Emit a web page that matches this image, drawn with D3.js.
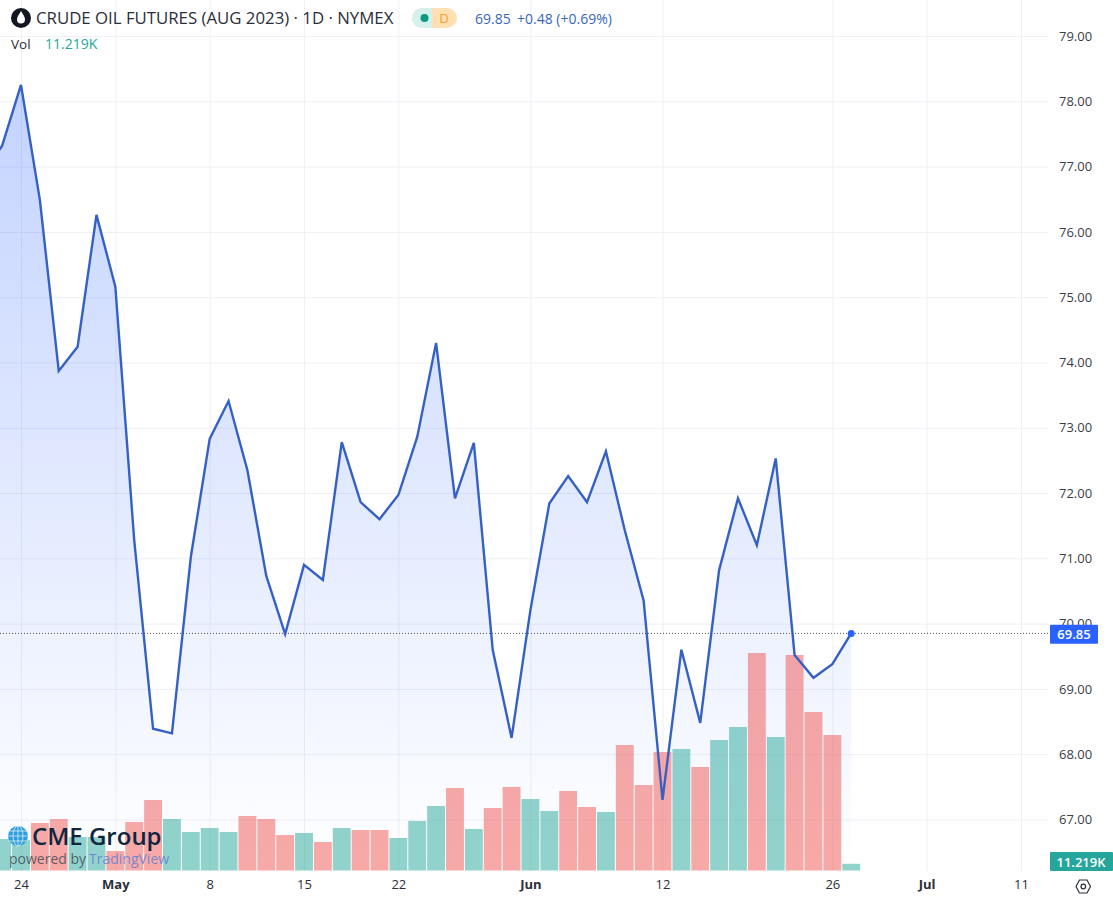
<!DOCTYPE html>
<html lang="en">

<head>
    <meta charset="UTF-8">
    <title>Crude Oil Futures (Aug 2023)</title>
    <script src="https://d3js.org/d3.v7.min.js"></script>
    <style>
        html, body { margin: 0; padding: 0; background: #fff; overflow: hidden; }
        text { font-family: "Open Sans", sans-serif; }
    </style>
</head>

<body>
    <svg id="chart" width="1113" height="902"></svg>

    <script>
        // trading days shown on the time axis (no bars for the last nine)
        const days = ["Apr 20", "Apr 21", "Apr 24", "Apr 25", "Apr 26", "Apr 27", "Apr 28",
            "May 1", "May 2", "May 3", "May 4", "May 5", "May 8", "May 9", "May 10", "May 11", "May 12",
            "May 15", "May 16", "May 17", "May 18", "May 19", "May 22", "May 23", "May 24", "May 25", "May 26",
            "May 30", "May 31", "Jun 1", "Jun 2", "Jun 5", "Jun 6", "Jun 7", "Jun 8", "Jun 9",
            "Jun 12", "Jun 13", "Jun 14", "Jun 15", "Jun 16", "Jun 20", "Jun 21", "Jun 22", "Jun 23",
            "Jun 26", "Jun 27", "Jun 28", "Jun 29", "Jun 30", "Jul 3", "Jul 5", "Jul 6", "Jul 7", "Jul 10", "Jul 11"];

        const closes = [76.90, 77.32, 78.25, 76.49, 73.87, 74.24, 76.26,
            75.16, 71.28, 68.39, 68.32, 71.02, 72.83, 73.41, 72.35, 70.73, 69.84,
            70.90, 70.67, 72.78, 71.86, 71.60, 71.97, 72.86, 74.30, 71.92, 72.77,
            69.60, 68.25, 70.21, 71.84, 72.26, 71.86, 72.64, 71.43, 70.35,
            67.30, 69.60, 68.48, 70.82, 71.92, 71.20, 72.53, 69.52, 69.17,
            69.38, 69.85];

        // volume in thousands, 1 = up day (teal), 0 = down day (red)
        const volumes = [50, 52.7, 51, 79.5, 86.2, 56, 56,
            32.6, 81.2, 118, 86.2, 64.4, 71.1, 64.4, 91.2, 86.2, 59.4,
            62.8, 47.7, 71.1, 67.8, 67.8, 54.4, 82.9, 108, 138.1, 69.5,
            104.6, 139.8, 119.7, 99.6, 133.1, 106.3, 97.9, 210.1, 143.1,
            198.4, 203.4, 173.3, 218.5, 240.2, 364.1, 223.5, 360.8, 265.3,
            226.8, 11.219];
        const volumeUp = [1, 1, 1, 0, 0, 1, 1,
            0, 0, 0, 1, 1, 1, 1, 0, 0, 0,
            1, 0, 1, 0, 0, 1, 1, 1, 0, 1,
            0, 0, 1, 1, 0, 0, 1, 0, 0,
            0, 1, 0, 1, 1, 0, 1, 0, 0,
            0, 1];

        const priceTicks = [67, 68, 69, 70, 71, 72, 73, 74, 75, 76, 77, 78, 79];
        const timeTicks = ["Apr 24", "May 1", "May 8", "May 15", "May 22", "Jun 1", "Jun 12", "Jun 26", "Jul 3", "Jul 11"];
        const timeLabels = ["24", "May", "8", "15", "22", "Jun", "12", "26", "Jul", "11"];
        const boldLabels = ["May", "Jun", "Jul"];

        const lastClose = 69.85;
        const lastVolume = "11.219K";

        const paneRight = 1046;
        const paneBottom = 871;

        const svg = d3.select("#chart");

        const x = d3.scalePoint().domain(days).range([-16.73, 1021]);
        const y = d3.scaleLinear().domain([67, 79]).range([819.5, 36]);
        const yVol = d3.scaleLinear().domain([0, 364.1]).range([870.5, 653]);

        const defs = svg.append("defs");
        defs.append("clipPath").attr("id", "pane")
            .append("rect").attr("x", 0).attr("y", 0).attr("width", paneRight).attr("height", paneBottom);

        const grad = defs.append("linearGradient").attr("id", "areaFill")
            .attr("gradientUnits", "userSpaceOnUse")
            .attr("x1", 0).attr("x2", 0).attr("y1", 85).attr("y2", paneBottom);
        grad.append("stop").attr("offset", 0).attr("stop-color", "#2962ff").attr("stop-opacity", 0.28);
        grad.append("stop").attr("offset", 1).attr("stop-color", "#2962ff").attr("stop-opacity", 0);

        // grid comes from the axes, tick lines stretched over the pane
        const gridX = svg.append("g")
            .attr("transform", `translate(0,${paneBottom})`)
            .call(d3.axisBottom(x).tickValues(timeTicks).tickSize(-paneBottom).tickFormat(""));
        gridX.select(".domain").remove();
        gridX.selectAll("line").attr("stroke", "#eef0f4");

        const gridY = svg.append("g")
            .call(d3.axisRight(y).tickValues(priceTicks).tickSize(paneRight + 2).tickFormat(""));
        gridY.select(".domain").remove();
        gridY.selectAll("line").attr("stroke", "#eef0f4");

        const pane = svg.append("g").attr("clip-path", "url(#pane)");

        const area = d3.area()
            .x((d, i) => x(days[i]))
            .y0(paneBottom)
            .y1(d => y(d));
        pane.append("path").datum(closes).attr("d", area).attr("fill", "url(#areaFill)");

        // volume bars
        const barWidth = x.step() - 1;
        pane.selectAll(".vol")
            .data(volumes)
            .enter().append("rect")
            .attr("class", "vol")
            .attr("x", (d, i) => x(days[i]) - barWidth / 2)
            .attr("width", barWidth)
            .attr("y", d => yVol(d))
            .attr("height", d => yVol(0) - yVol(d))
            .attr("fill", (d, i) => volumeUp[i] ? "#26a69a" : "#ef5350")
            .attr("fill-opacity", 0.5);

        // last price dotted line
        svg.append("line")
            .attr("x1", 0).attr("x2", paneRight + 2)
            .attr("y1", y(lastClose)).attr("y2", y(lastClose))
            .attr("stroke", "#555").attr("stroke-width", 1).attr("stroke-dasharray", "1 2");

        const line = d3.line()
            .x((d, i) => x(days[i]))
            .y(d => y(d));
        pane.append("path").datum(closes)
            .attr("d", line)
            .attr("fill", "none")
            .attr("stroke", "#3560c4")
            .attr("stroke-width", 2.4)
            .attr("stroke-linejoin", "miter");

        svg.append("circle")
            .attr("cx", x(days[closes.length - 1]))
            .attr("cy", y(lastClose))
            .attr("r", 3.5)
            .attr("fill", "#2962ff");

        // price axis
        const axisY = svg.append("g")
            .attr("transform", `translate(${paneRight + 13},0)`)
            .call(d3.axisRight(y).tickValues(priceTicks).tickSize(0).tickPadding(0).tickFormat(d3.format(".2f")));
        axisY.select(".domain").remove();
        axisY.selectAll("text").attr("font-size", 13).attr("fill", "#3a3e49");

        // time axis
        const axisX = svg.append("g")
            .attr("transform", `translate(0,${paneBottom + 9})`)
            .call(d3.axisBottom(x).tickValues(timeTicks).tickSize(0).tickPadding(0)
                .tickFormat(d => timeLabels[timeTicks.indexOf(d)]));
        axisX.select(".domain").remove();
        axisX.selectAll("text")
            .attr("font-size", 13)
            .attr("fill", "#2a2e39")
            .attr("font-weight", function () { return boldLabels.includes(this.textContent) ? 700 : 400; });

        // last value tags
        svg.append("rect").attr("x", 1050).attr("y", y(lastClose) - 8.7).attr("width", 48).attr("height", 19)
            .attr("rx", 1).attr("fill", "#2962ff");
        svg.append("text").attr("x", 1074).attr("y", y(lastClose) + 5.5).attr("text-anchor", "middle")
            .attr("font-size", 13).attr("font-weight", 600).attr("fill", "#fff").text(d3.format(".2f")(lastClose));

        svg.append("rect").attr("x", 1050).attr("y", 852).attr("width", 63).attr("height", 19)
            .attr("rx", 1).attr("fill", "#26a69a");
        svg.append("text").attr("x", 1081).attr("y", 866.5).attr("text-anchor", "middle")
            .attr("font-size", 13).attr("font-weight", 600).attr("fill", "#fff").text(lastVolume);

        // settings icon
        svg.append("path")
            .attr("d", "M1076 886.5L1079.5 880H1087L1090.5 886.5L1087 893H1079.5Z")
            .attr("fill", "none").attr("stroke", "#2a2e39").attr("stroke-width", 1.2);
        svg.append("circle").attr("cx", 1083.3).attr("cy", 886.5).attr("r", 2.3)
            .attr("fill", "none").attr("stroke", "#2a2e39").attr("stroke-width", 1.2);

        // header
        svg.append("circle").attr("cx", 21).attr("cy", 18).attr("r", 10).attr("fill", "#131722");
        svg.append("path")
            .attr("d", "M21 11C23 14.5 25 16.5 25 19.5A4 4 0 0 1 17 19.5C17 16.5 19 14.5 21 11Z")
            .attr("fill", "#fff");
        svg.append("text").attr("x", 36).attr("y", 24)
            .attr("font-size", 16.8).attr("fill", "#2a2e39")
            .text("CRUDE OIL FUTURES (AUG 2023) · 1D · NYMEX");

        svg.append("rect").attr("x", 412).attr("y", 8).attr("width", 45).attr("height", 20).attr("rx", 10).attr("fill", "#ffe0b2");
        svg.append("path").attr("d", "M432 8H422A10 10 0 0 0 422 28H432Z").attr("fill", "#d6f0ec");
        svg.append("circle").attr("cx", 424.5).attr("cy", 18).attr("r", 4).attr("fill", "#089981");
        svg.append("text").attr("x", 444).attr("y", 23).attr("text-anchor", "middle")
            .attr("font-size", 13).attr("fill", "#f5a02c").text("D");

        svg.append("text").attr("x", 475).attr("y", 24)
            .attr("font-size", 14).attr("fill", "#3a66b8").text("69.85");
        svg.append("text").attr("x", 517).attr("y", 24)
            .attr("font-size", 14).attr("fill", "#3a66b8").text("+0.48 (+0.69%)");

        svg.append("text").attr("x", 11).attr("y", 49)
            .attr("font-size", 13.5).attr("fill", "#2a2e39").text("Vol");
        svg.append("text").attr("x", 45).attr("y", 49)
            .attr("font-size", 14).attr("fill", "#26a69a").text(lastVolume);

        // logo
        const logo = svg.append("g");
        logo.append("circle").attr("cx", 18).attr("cy", 836).attr("r", 10).attr("fill", "#2f9fdc");
        [-5, 0, 5].forEach(d => {
            logo.append("line").attr("x1", 8).attr("x2", 28).attr("y1", 836 + d).attr("y2", 836 + d)
                .attr("stroke", "#d8eef8").attr("stroke-width", 0.8);
        });
        logo.append("ellipse").attr("cx", 18).attr("cy", 836).attr("rx", 5).attr("ry", 10)
            .attr("fill", "none").attr("stroke", "#d8eef8").attr("stroke-width", 0.8);
        logo.append("line").attr("x1", 18).attr("x2", 18).attr("y1", 826).attr("y2", 846)
            .attr("stroke", "#d8eef8").attr("stroke-width", 0.8);
        logo.append("text").attr("x", 32).attr("y", 845)
            .attr("font-size", 24).attr("font-weight", 600).attr("fill", "#10263f").text("CME Group");
        logo.append("text").attr("x", 9).attr("y", 864)
            .attr("font-size", 14).attr("fill", "#3b4450").attr("fill-opacity", 0.8).text("powered by");
        logo.append("text").attr("x", 89).attr("y", 864)
            .attr("font-size", 14).attr("fill", "#5f7fd6").attr("fill-opacity", 0.85).text("TradingView");
    </script>
</body>

</html>
